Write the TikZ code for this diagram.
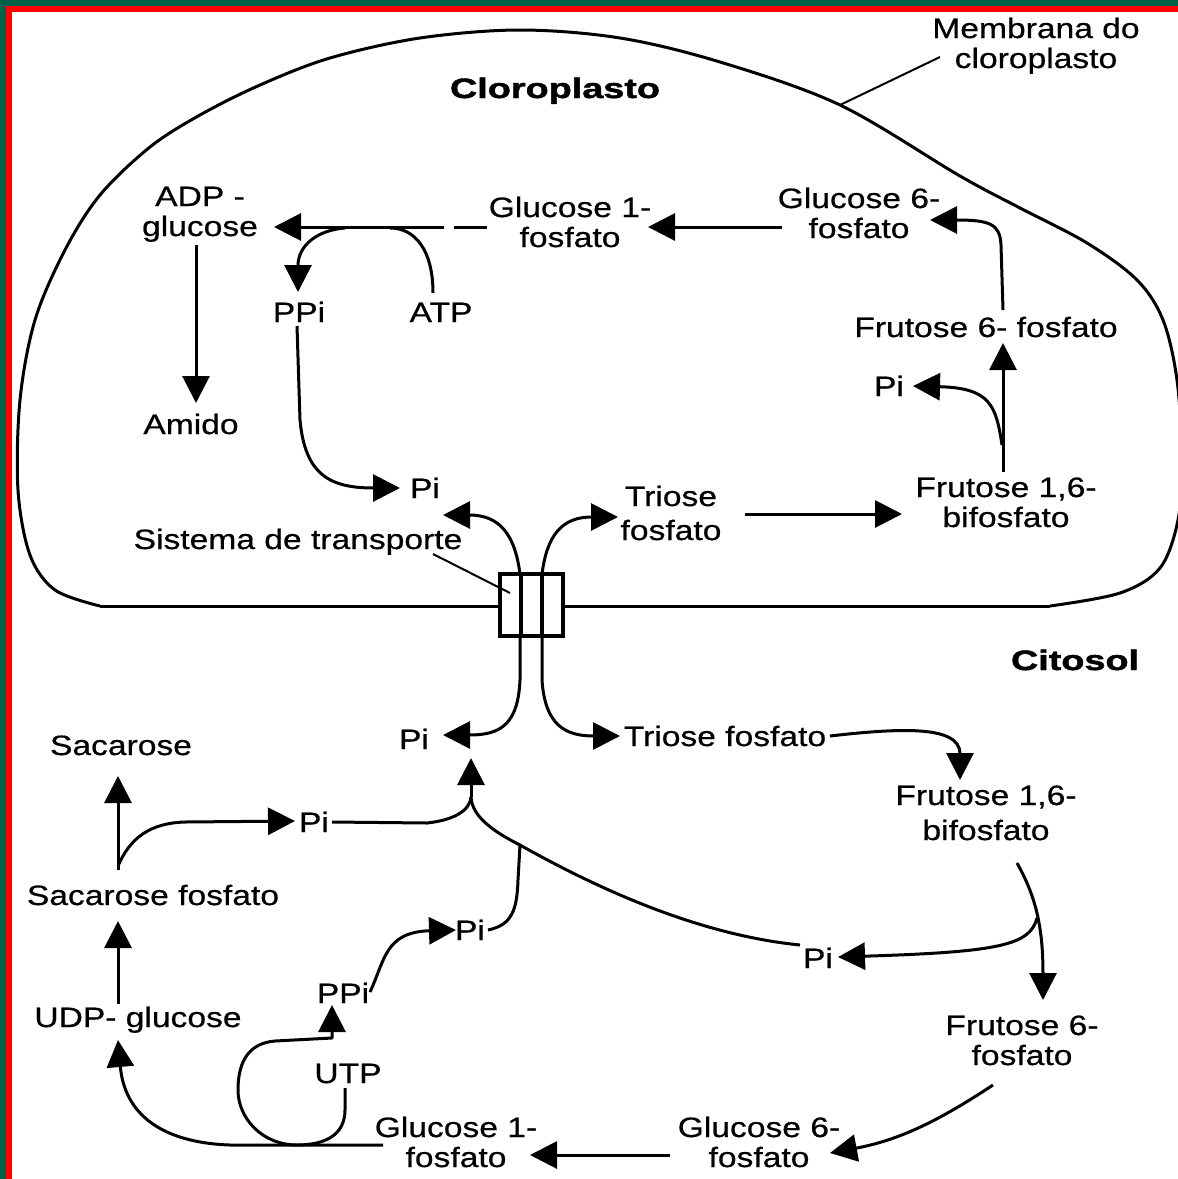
\documentclass[tikz,border=0pt]{standalone}
\usepackage{fontspec}
\usetikzlibrary{arrows.meta}
\newfontfamily\lblfamily[FakeStretch=1.2,FakeBold=0.6]{Liberation Sans}
\newfontfamily\ttlfamily[FakeStretch=1.35,FakeBold=1.6]{Liberation Sans}
\definecolor{framegreen}{RGB}{0,96,72}
\definecolor{framered}{RGB}{255,0,0}
\tikzset{
  lbl/.style={inner sep=0pt, anchor=base, align=center,
    font=\lblfamily\fontsize{28}{30}\selectfont},
  ttl/.style={inner sep=0pt, anchor=base,
    font=\ttlfamily\bfseries\fontsize{28}{30}\selectfont},
  conn/.style={line width=3pt, line join=round},
  arr/.style={conn, -{Triangle[length=27pt,width=27pt]}},
  membrane/.style={line width=3pt, line join=round},
  pointer/.style={line width=2pt},
  porter/.style={line width=4pt},
}
\begin{document}
\begin{tikzpicture}[x=1pt,y=-1pt]
\useasboundingbox (0,0) rectangle (1178,1179);
% frame along the top and left edges
\fill[framegreen] (0,0) rectangle (1178,1179);
\fill[framered] (6,6) rectangle (1178,1179);
\fill[white] (12,12) rectangle (1178,1179);

\begin{scope}
\clip (12,12) rectangle (1178,1179);
% chloroplast envelope
\draw[membrane] (1050,606) -- (100,606);
\draw[membrane] plot[smooth, tension=0.55] coordinates {
  (100,606) (55,590) (30,555) (18,490) (20,400) (35,320) (65,250)
  (100,195) (150,147) (200,115) (260,85) (330,58) (420,38) (520,30)
  (620,38) (720,62) (840,105) (960,176) (1020,208) (1087,243)
  (1137,280) (1163,320) (1177,380) (1182,460) (1178,520) (1160,568)
  (1120,593) (1050,606)};
\end{scope}

% ---- labels: chloroplast (anchored at the baseline of the last line) ----
\node[ttl] (tchl) at (555,98) {Cloroplasto};
\node[lbl] (memb) at (1036,68) {Membrana do\\cloroplasto};
\node[lbl] (adpg) at (200,236) {ADP -\\glucose};
\node[lbl] (g1pc) at (570,247) {Glucose 1-\\fosfato};
\node[lbl] (g6pc) at (859,238) {Glucose 6-\\fosfato};
\node[lbl] (f6pc) at (986,337) {Frutose 6- fosfato};
\node[lbl] (pic1) at (889,396) {Pi};
\node[lbl] (fbpc) at (1006,527) {Frutose 1,6-\\bifosfato};
\node[lbl] (tpc) at (671,540) {Triose\\[4pt]fosfato};
\node[lbl] (pic2) at (425,498) {Pi};
\node[lbl] (ppic) at (299,322) {PPi};
\node[lbl] (atp) at (441,322) {ATP};
\node[lbl] (amido) at (191,434) {Amido};
\node[lbl] (sist) at (298,549) {Sistema de transporte};

% ---- labels: cytosol ----
\node[ttl] (tcit) at (1075,670) {Citosol};
\node[lbl] (pit1) at (414,749) {Pi};
\node[lbl] (tpt) at (725,746) {Triose fosfato};
\node[lbl] (fbpt) at (986,840) {Frutose 1,6-\\[5pt]bifosfato};
\node[lbl] (pit2) at (818,968) {Pi};
\node[lbl] (f6pt) at (1022,1065) {Frutose 6-\\fosfato};
\node[lbl] (g6pt) at (759,1167) {Glucose 6-\\fosfato};
\node[lbl] (g1pt) at (456,1167) {Glucose 1-\\fosfato};
\node[lbl] (utp) at (348,1083) {UTP};
\node[lbl] (ppit) at (343,1003) {PPi};
\node[lbl] (pit3) at (470,940) {Pi};
\node[lbl] (pit4) at (314,832) {Pi};
\node[lbl] (sac) at (121,755) {Sacarose};
\node[lbl] (sacp) at (153,905) {Sacarose fosfato};
\node[lbl] (udpg) at (138,1027) {UDP- glucose};

% ---- transporter in the envelope ----
\draw[porter, fill=white] (500,574) rectangle (563,636);
\draw[porter] (521,574) -- (521,636) (542,574) -- (542,636);
\coordinate (portTL) at (520,574);
\coordinate (portTR) at (542,574);
\coordinate (portBL) at (520,636);
\coordinate (portBR) at (542,636);

% pointer lines of the annotations
\draw[pointer] (840,105) -- (940,57);
\draw[pointer] (433,554) -- (510,593);

% ---- chloroplast pathway ----
\draw[conn] (487,227) -- (454,227);
\draw[arr] (444,227) -- (274,227);
\draw[arr] (345,228) .. controls (318,230) and (298,245) .. (298,292);
\draw[conn] (433,293) .. controls (433,250) and (415,228) .. (390,228);
\draw[arr] (196,245) -- (196,403);
\draw[arr] (297,326) -- (300,420) .. controls (305,475) and (330,488) .. (400,488);
\draw[arr] (782,227) -- (648,227);
\draw[arr] (1003,310) -- (1001,245) .. controls (1000,224) and (990,220) .. (930,220);
\draw[arr] (1003,472) -- (1003,343);
\draw[arr] (1002,445) .. controls (996,405) and (990,388) .. (913,386);
\draw[arr] (745,514) -- (902,514);
\draw[arr] (portTL) .. controls (515,535) and (500,515) .. (443,515);
\draw[arr] (portTR) .. controls (547,535) and (562,517) .. (618,517);

% ---- cytosol pathway ----
\draw[arr] (portBL) -- (520,680) .. controls (518,725) and (500,735) .. (443,735);
\draw[arr] (portBR) -- (542,680) .. controls (545,725) and (565,736) .. (620,736);
\draw[arr] (830,736) .. controls (900,728) and (960,725) .. (960,780);
\draw[arr] (1017,863) .. controls (1035,895) and (1043,925) .. (1043,1000);
\draw[arr] (1037,918) .. controls (1030,945) and (1000,952) .. (838,957);
\draw[arr] (993,1085) .. controls (940,1120) and (900,1140) .. (830,1153);
\draw[arr] (670,1155) -- (530,1155);
\draw[arr] (383,1145) -- (230,1145) .. controls (170,1143) and (125,1120) .. (118,1040);
\draw[arr] (345,1088) -- (345,1110) .. controls (345,1135) and (325,1145) .. (297,1145)
  .. controls (262,1145) and (238,1118) .. (238,1090)
  .. controls (238,1060) and (250,1043) .. (275,1041) -- (332,1038) -- (332,1005);
\draw[arr] (370,992) .. controls (385,960) and (385,932) .. (456,930);
\coordinate (join) at (471,797);
\draw[conn] (488,930) .. controls (512,925) and (517,910) .. (518,880) -- (520,845);
\draw[conn] (800,945) .. controls (700,935) and (600,890) .. (520,845)
  .. controls (490,830) and (472,815) .. (join);
\draw[conn] (332,822) -- (427,823) .. controls (455,820) and (470,810) .. (join);
\draw[arr] (join) -- (471,758);
\draw[arr] (118,870) -- (118,776);
\draw[arr] (118,866) .. controls (130,838) and (150,823) .. (185,822) -- (295,821);
\draw[arr] (118,1004) -- (118,921);
\end{tikzpicture}
\end{document}
